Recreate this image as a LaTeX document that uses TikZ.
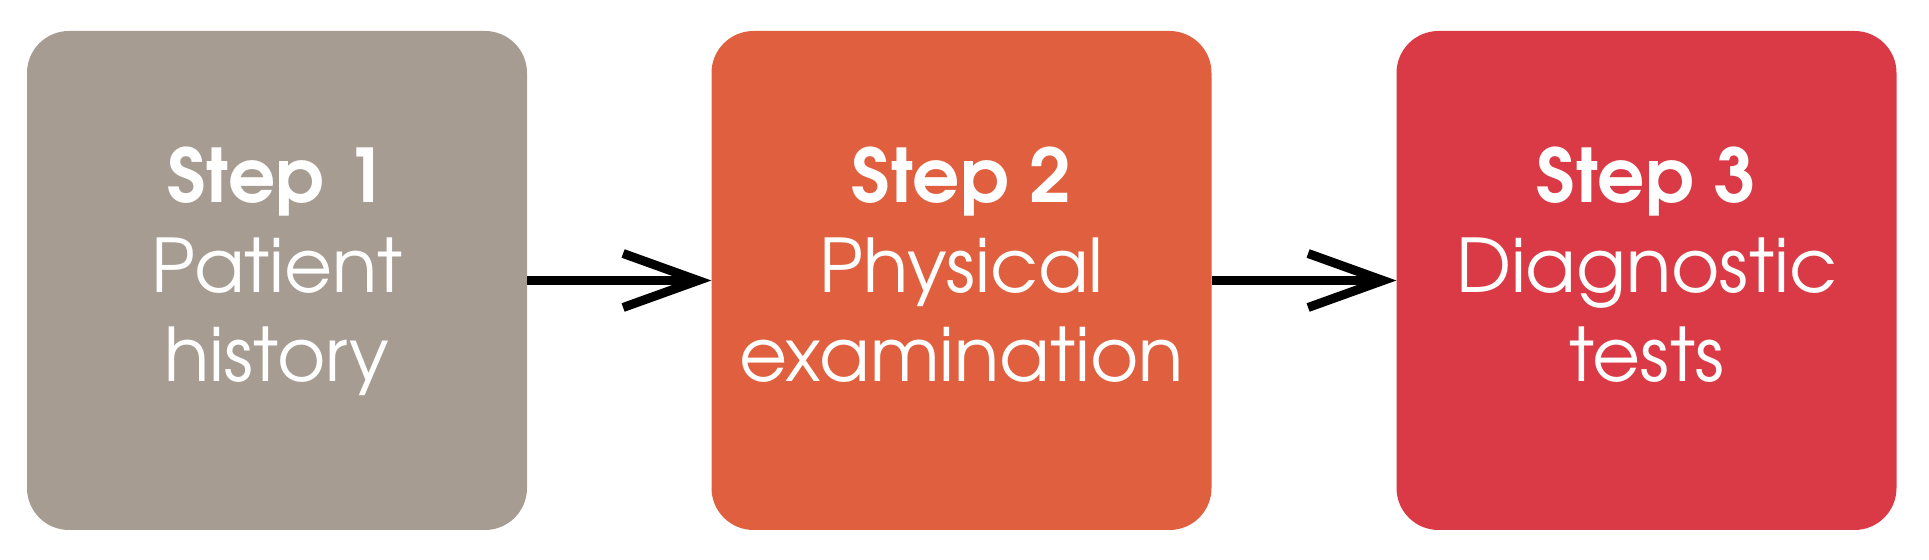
\documentclass[tikz,border=0pt]{standalone}
\usepackage{fontspec}
\setmainfont{texgyreadventor}[Extension=.otf, UprightFont=*-regular, BoldFont=*-bold]
\definecolor{boxgrey}{HTML}{A69C92}
\definecolor{boxorange}{HTML}{DF5F3F}
\definecolor{boxred}{HTML}{DA3A46}
\tikzset{
  stepbox/.style={rectangle, rounded corners=21pt, minimum width=250pt, minimum height=249.5pt, inner sep=0pt, draw=none},
  titletext/.style={anchor=base, text=white, inner sep=0pt, font=\fontsize{37}{44}\selectfont\bfseries},
  bodytext/.style={anchor=base, text=white, inner sep=0pt, font=\fontsize{37}{44}\selectfont},
  conn/.style={draw=black, line width=4.5pt, line cap=butt, line join=miter}
}
\begin{document}
\begin{tikzpicture}[x=0.5pt,y=-0.5pt]
\useasboundingbox (0,0) rectangle (1929,560);
\node[stepbox, fill=boxgrey] (b1) at (277,280.5) {};
\node[stepbox, fill=boxorange] (b2) at (961.5,280.5) {};
\node[stepbox, fill=boxred] (b3) at (1646.5,280.5) {};
% texts
\node[titletext] (t1) at (277,203) {Step 1};
\node[bodytext] (t1a) at (277,293) {Patient};
\node[bodytext] (t1b) at (277,382) {history};
\node[titletext] (t2) at (961.5,203) {Step 2};
\node[bodytext] (t2a) at (961.5,293) {Physical};
\node[bodytext] (t2b) at (961.5,382) {examination};
\node[titletext] (t3) at (1646.5,203) {Step 3};
\node[bodytext] (t3a) at (1646.5,293) {Diagnostic};
\node[bodytext] (t3b) at (1646.5,382) {tests};
% arrows
\coordinate (v1) at ([xshift=-6.5pt]b2.west);
\coordinate (v2) at ([xshift=-6.5pt]b3.west);
\draw[conn] (b1.east) -- (v1);
\draw[conn] ([shift={(-75,-27)}]v1) -- (v1) -- ([shift={(-75,27)}]v1);
\draw[conn] (b2.east) -- (v2);
\draw[conn] ([shift={(-75,-27)}]v2) -- (v2) -- ([shift={(-75,27)}]v2);
\end{tikzpicture}
\end{document}
